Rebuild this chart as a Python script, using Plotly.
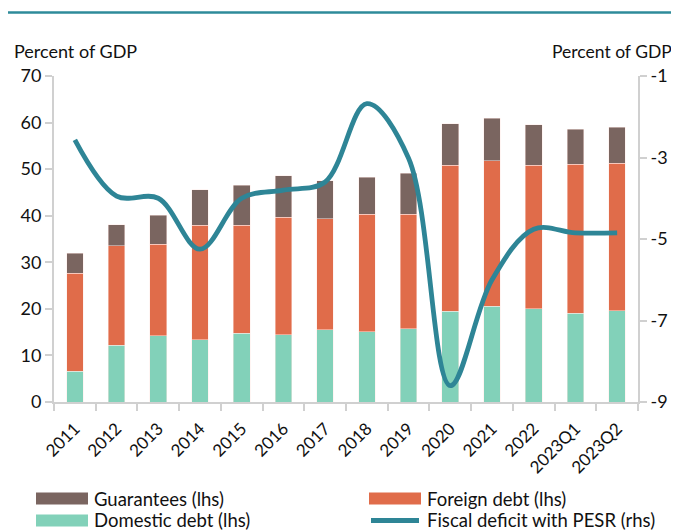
import plotly.graph_objects as go

categories = ["2011", "2012", "2013", "2014", "2015", "2016", "2017", "2018", "2019",
              "2020", "2021", "2022", "2023Q1", "2023Q2"]
domestic = [6.6, 12.2, 14.2, 13.4, 14.8, 14.4, 15.5, 15.1, 15.7, 19.5, 20.6, 20.0, 19.1, 19.6]
foreign_total = [27.6, 33.5, 33.9, 37.9, 37.9, 39.7, 39.3, 40.3, 40.3, 50.8, 51.8, 50.8, 51.1, 51.3]
total = [31.9, 38.1, 40.1, 45.6, 46.5, 48.6, 47.5, 48.3, 49.1, 59.7, 60.9, 59.5, 58.6, 59.0]
foreign = [round(f - d, 2) for f, d in zip(foreign_total, domestic)]
guarantees = [round(t - f, 2) for t, f in zip(total, foreign_total)]
fiscal_deficit = [-2.57, -3.95, -4.0, -5.25, -4.0, -3.8, -3.6, -1.68, -3.02, -8.6, -6.0, -4.76, -4.85, -4.85]

left_ticks = [0, 10, 20, 30, 40, 50, 60, 70]
right_ticks = [-9, -7, -5, -3, -1]
right_tick_labels = ["-9", "-7", "-5", "-3", "-1"]

C_GUAR = "#7A6560"
C_FOR = "#E06C4A"
C_DOM = "#82D1B9"
C_LINE = "#2E8596"
FONT = "Lato"
TXT = "#111111"

fig = go.Figure()
edge = dict(color="rgba(255,235,230,0.8)", width=0.6)
fig.add_trace(go.Bar(x=categories, y=domestic, name="Domestic debt (lhs)",
                     marker=dict(color=C_DOM, line=edge), showlegend=False))
fig.add_trace(go.Bar(x=categories, y=foreign, name="Foreign debt (lhs)",
                     marker=dict(color=C_FOR, line=edge), showlegend=False))
fig.add_trace(go.Bar(x=categories, y=guarantees, name="Guarantees (lhs)",
                     marker=dict(color=C_GUAR, line=edge), showlegend=False))
fig.add_trace(go.Scatter(x=categories, y=fiscal_deficit, name="Fiscal deficit with PESR (rhs)",
                         yaxis="y2", mode="lines",
                         line=dict(color=C_LINE, width=4.8, shape="spline", smoothing=1.0),
                         showlegend=False))

# page body has an 8px margin, so lay the figure out in reference pixels minus 8
OFF = 8
W, H = 679 - OFF, 531 - OFF
PLOT_L, PLOT_R, PLOT_T, PLOT_B = 54, 638, 75.7, 402.3   # reference pixels
L = PLOT_L - OFF
R = W - (PLOT_R - OFF)
T = PLOT_T - OFF
B = H - (PLOT_B - OFF)
pw = PLOT_R - PLOT_L
ph = PLOT_B - PLOT_T


def xp(px):
    return (px - PLOT_L) / pw


def yp(py):
    return (PLOT_B - py) / ph


shapes = [dict(type="line", xref="paper", yref="paper", x0=xp(4), x1=xp(679), y0=yp(12), y1=yp(12),
               line=dict(color="#2E8B9A", width=2.5))]
annotations = [
    dict(text="Percent of GDP", xref="paper", yref="paper", x=xp(12), y=yp(51), xanchor="left",
         yanchor="middle", showarrow=False, font=dict(family=FONT, size=18, color=TXT)),
    dict(text="Percent of GDP", xref="paper", yref="paper", x=xp(674), y=yp(51), xanchor="right",
         yanchor="middle", showarrow=False, font=dict(family=FONT, size=17.5, color=TXT)),
]
legend_items = [
    ("rect", C_GUAR, "Guarantees (lhs)", 36, 499),
    ("rect", C_FOR, "Foreign debt (lhs)", 369, 499),
    ("rect", C_DOM, "Domestic debt (lhs)", 36, 521),
    ("line", C_LINE, "Fiscal deficit with PESR (rhs)", 369, 521),
]
for kind, col, label, x0, yc in legend_items:
    if kind == "rect":
        shapes.append(dict(type="rect", xref="paper", yref="paper", x0=xp(x0), x1=xp(x0 + 52),
                           y0=yp(yc + 6), y1=yp(yc - 6), fillcolor=col, line=dict(width=0)))
    else:
        shapes.append(dict(type="line", xref="paper", yref="paper", x0=xp(x0 + 2), x1=xp(x0 + 50),
                           y0=yp(yc), y1=yp(yc), line=dict(color=col, width=5)))
    annotations.append(dict(text=label, xref="paper", yref="paper", x=xp(x0 + 56), y=yp(yc),
                            xanchor="left", yanchor="middle", showarrow=False,
                            font=dict(family=FONT, size=18.5, color=TXT)))

axis_line = dict(showline=True, linecolor="#D0D0D0", linewidth=2, showgrid=False, zeroline=False,
                 ticks="outside", tickcolor="#D0D0D0", ticklen=7, tickwidth=2,
                 tickfont=dict(family=FONT, size=18, color=TXT))

fig.update_layout(
    width=W, height=H, barmode="stack", bargap=0.6,
    margin=dict(l=L, r=R, t=T, b=B, autoexpand=False),
    paper_bgcolor="white", plot_bgcolor="white",
    xaxis=dict(**axis_line, tickangle=-45, tickson="boundaries", range=[-0.5, 13.5]),
    yaxis=dict(**axis_line, range=[0, 70], tickvals=left_ticks),
    yaxis2=dict(**axis_line, overlaying="y", side="right", range=[-9, -1],
                tickvals=right_ticks, ticktext=right_tick_labels),
    shapes=shapes, annotations=annotations, showlegend=False,
)
fig.update_xaxes(tickfont=dict(family=FONT, size=17, color=TXT), ticklabelstandoff=8)
fig.write_html("out.html")
